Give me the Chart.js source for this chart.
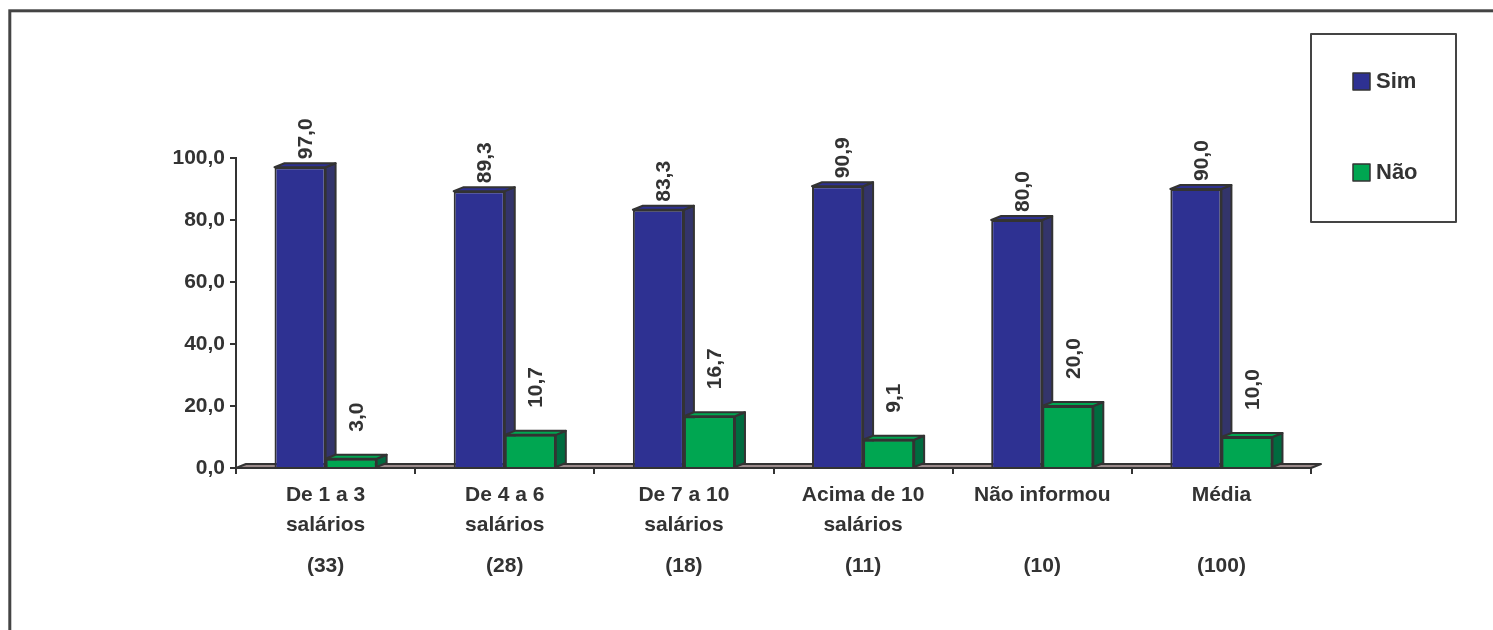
<!DOCTYPE html>
<html>
<head>
<meta charset="utf-8">
<script src="https://cdn.jsdelivr.net/npm/chart.js@4.4.0/dist/chart.umd.min.js"></script>
<style>
  html, body { margin: 0; padding: 0; background: #fff; }
  canvas { display: block; }
</style>
</head>
<body>
<canvas id="bar-chart" width="1493" height="630"></canvas>
<script>
// data
const categories = [['De 1 a 3', 'salários'], ['De 4 a 6', 'salários'], ['De 7 a 10', 'salários'], ['Acima de 10', 'salários'], 'Não informou', 'Média'];
const counts = ['(33)', '(28)', '(18)', '(11)', '(10)', '(100)'];
const sim = [97.0, 89.3, 83.3, 90.9, 80.0, 90.0];
const nao = [3.0, 10.7, 16.7, 9.1, 20.0, 10.0];
const yTicks = [0, 20, 40, 60, 80, 100];

const ink = '#333333';
const font = '"Liberation Sans", Arial, sans-serif';
const DX = 10, DY = 4;

const fmt = v => Number(v).toFixed(1).replace('.', ',');

function face(ctx, pts, fill) {
    ctx.beginPath();
    ctx.moveTo(pts[0][0], pts[0][1]);
    for (let i = 1; i < pts.length; i++) ctx.lineTo(pts[i][0], pts[i][1]);
    ctx.closePath();
    ctx.fillStyle = fill;
    ctx.fill();
    ctx.lineWidth = 2;
    ctx.lineJoin = 'round';
    ctx.strokeStyle = ink;
    ctx.stroke();
}

function sides(ctx, bar, top, side) {
    const p = bar.getProps(['x', 'y', 'base', 'width'], true);
    const l = p.x - p.width / 2, r = p.x + p.width / 2;
    face(ctx, [[r, p.y], [r + DX, p.y - DY], [r + DX, p.base - DY], [r, p.base]], side);
    face(ctx, [[l, p.y], [l + DX, p.y - DY], [r + DX, p.y - DY], [r, p.y]], top);
}

const box3d = {
    id: 'box3d',
    beforeDraw(chart) {
        const ctx = chart.ctx;
        ctx.save();
        ctx.lineWidth = 3;
        ctx.strokeStyle = '#444';
        ctx.strokeRect(9.8, 10.8, 1600, 800);
        ctx.restore();
    },
    beforeDatasetsDraw(chart) {
        const { ctx, chartArea: a } = chart;
        ctx.save();
        face(ctx, [[a.left, a.bottom], [a.right, a.bottom], [a.right + DX, a.bottom - DY], [a.left + DX, a.bottom - DY]], '#9a8a8a');
        ctx.restore();
    },
    afterDatasetsDraw(chart) {
        const ctx = chart.ctx;
        const m0 = chart.getDatasetMeta(0), m1 = chart.getDatasetMeta(1);
        const ds = chart.data.datasets;
        ctx.save();
        m0.data.forEach((bar, i) => {
            sides(ctx, bar, ds[0].topColor, ds[0].sideColor);
            m1.data[i].draw(ctx);
            sides(ctx, m1.data[i], ds[1].topColor, ds[1].sideColor);
        });

        // value labels, rotated
        ctx.fillStyle = ink;
        ctx.font = 'bold 21px ' + font;
        ctx.textAlign = 'left';
        ctx.textBaseline = 'middle';
        [m0, m1].forEach((meta, d) => {
            meta.data.forEach((bar, i) => {
                const p = bar.getProps(['x', 'y'], true);
                ctx.save();
                ctx.translate(p.x + 6, p.y - ds[d].labelGap);
                ctx.rotate(-Math.PI / 2);
                ctx.fillText(fmt(ds[d].data[i]), 0, 0);
                ctx.restore();
            });
        });

        // legend box
        ctx.lineWidth = 2;
        ctx.strokeStyle = '#444';
        ctx.strokeRect(1311, 34, 145, 188);
        ctx.font = 'bold 22px ' + font;
        ds.forEach((d, k) => {
            const cy = 81 + k * 91;
            ctx.fillStyle = d.backgroundColor;
            ctx.fillRect(1353, cy - 8, 17, 17);
            ctx.lineWidth = 1.5;
            ctx.strokeStyle = ink;
            ctx.strokeRect(1353, cy - 8, 17, 17);
            ctx.fillStyle = ink;
            ctx.fillText(d.label, 1376, cy + 1);
        });
        ctx.restore();
    }
};

const ctx = document.getElementById('bar-chart').getContext('2d');

let myChart = new Chart(ctx, {
    type: 'bar',
    data: {
        labels: categories,
        datasets: [{
            label: 'Sim',
            data: sim,
            backgroundColor: '#2e3192',
            topColor: '#2e3192',
            sideColor: '#33346b',
            labelGap: 8,
            borderColor: ink,
            borderWidth: 2
        }, {
            label: 'Não',
            data: nao,
            backgroundColor: '#00a651',
            topColor: '#00a651',
            sideColor: '#006b3f',
            labelGap: 27,
            borderColor: ink,
            borderWidth: 2
        }]
    },
    options: {
        responsive: false,
        animation: false,
        devicePixelRatio: 1,
        layout: {
            padding: { left: 0, top: 158, right: 182, bottom: 0 }
        },
        plugins: {
            legend: { display: false },
            tooltip: { enabled: false }
        },
        datasets: {
            bar: { categoryPercentage: 0.57, barPercentage: 1.0 }
        },
        scales: {
            y: {
                min: 0,
                max: 100,
                afterBuildTicks: s => { s.ticks = yTicks.map(v => ({ value: v })); },
                afterFit: s => { s.width = 236; },
                grid: { drawOnChartArea: false, tickLength: 6, color: ink, lineWidth: 2 },
                border: { display: true, color: ink, width: 2 },
                ticks: {
                    padding: 5,
                    color: ink,
                    font: { family: font, size: 21, weight: 'bold' },
                    callback: v => fmt(v)
                }
            },
            x: {
                afterFit: s => { s.height = 80; },
                grid: { drawOnChartArea: false, offset: true, tickLength: 6, color: ink, lineWidth: 2 },
                border: { display: true, color: ink, width: 2 },
                ticks: {
                    padding: 6,
                    maxRotation: 0,
                    autoSkip: false,
                    color: ink,
                    font: { family: font, size: 21, weight: 'bold', lineHeight: '30px' }
                }
            },
            x2: {
                type: 'category',
                position: 'bottom',
                weight: 1,
                offset: true,
                labels: counts,
                afterFit: s => { s.height = 82; },
                grid: { display: false, drawTicks: false },
                border: { display: false },
                ticks: {
                    padding: 3,
                    maxRotation: 0,
                    autoSkip: false,
                    color: ink,
                    font: { family: font, size: 21, weight: 'bold', lineHeight: '30px' }
                }
            }
        }
    },
    plugins: [box3d]
});
</script>
</body>
</html>
